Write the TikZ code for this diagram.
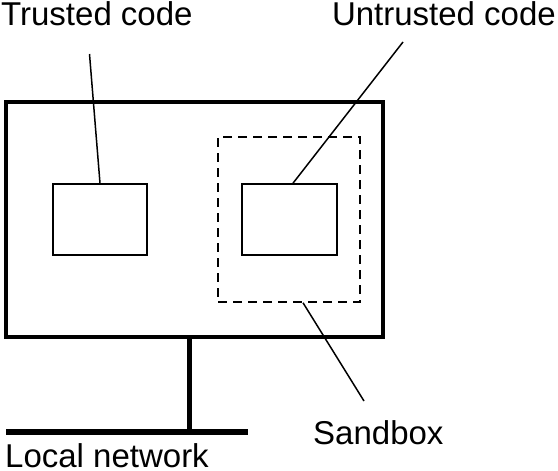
\documentclass[tikz,border=0pt]{standalone}
\usepackage{fontspec}
\setmainfont{Liberation Sans}
\begin{document}
\begin{tikzpicture}[x=1pt, y=-1pt,
	codebox/.style={draw, line width=1.6pt, minimum width=94pt, minimum height=71pt, inner sep=0pt},
	lbl/.style={font=\fontsize{33}{40}\selectfont, inner sep=0pt},
	leader/.style={line width=1.5pt}]
	\useasboundingbox (0,0) rectangle (558,471);
	% host machine
	\node[draw, line width=4pt, minimum width=377pt, minimum height=235pt, inner sep=0pt] (host) at (194.5,219.5) {};
	\node[draw, dash pattern=on 9pt off 6pt, line width=1.5pt, minimum width=142pt, minimum height=165pt, inner sep=0pt] (sandbox) at (289,219.5) {};
	\node[codebox] (trusted) at (100,219.5) {};
	\node[codebox, minimum width=95pt] (untrusted) at (289.5,219.5) {};
	% labels
	\node[lbl, anchor=base west] (trustedlbl) at (1,25) {Trusted code};
	\node[lbl, anchor=base east] (untrustedlbl) at (556,25) {Untrusted code};
	\node[lbl, anchor=base west] (sandboxlbl) at (313,444) {Sandbox};
	\node[lbl, anchor=base west, text depth=0pt] (netlbl) at (5,467) {Local network};
	% leaders
	\coordinate (tcend) at (89.5,54);
	\coordinate (ucend) at (403,42);
	\coordinate (sbend) at (364,401);
	\draw[leader] (tcend) -- (trusted.north);
	\draw[leader] (ucend) -- ([xshift=3.5pt]untrusted.north);
	\draw[leader] ([xshift=14pt]sandbox.south) -- (sbend);
	% network
	\coordinate (netl) at (6,432);
	\coordinate (netr) at (248,432);
	\coordinate (tap) at (189,432);
	\draw[line width=6pt] (netl) -- (netr);
	\draw[line width=5pt] (tap |- host.south) -- (tap);
\end{tikzpicture}
\end{document}
